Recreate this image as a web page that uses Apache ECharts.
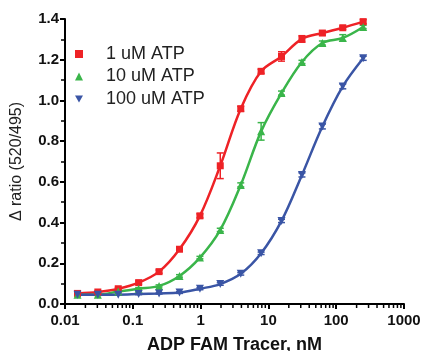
<!DOCTYPE html>
<html><head><meta charset="utf-8">
<script src="https://cdn.jsdelivr.net/npm/echarts@6/dist/echarts.min.js"></script>
<style>html,body{margin:0;padding:0;background:#fff}#c{width:422px;height:351px}</style>
</head><body><div id="c"></div>
<script>
const conc = [0.0153, 0.0305, 0.061, 0.122, 0.244, 0.488, 0.977, 1.95, 3.91, 7.81, 15.6, 31.25, 62.5, 125, 250];
const atp1 = [0.052,0.059,0.075,0.105,0.159,0.269,0.433,0.679,0.959,1.143,1.216,1.302,1.331,1.357,1.387];
const atp10 = [0.046,0.046,0.061,0.075,0.089,0.138,0.228,0.364,0.585,0.848,1.036,1.189,1.282,1.307,1.361];
const atp100 = [0.046,0.046,0.046,0.049,0.052,0.056,0.075,0.098,0.148,0.249,0.408,0.634,0.872,1.069,1.207];
const err1 = [0.005,0.005,0.006,0.008,0.008,0.008,0.01,0.063,0.012,0.01,0.023,0.016,0.01,0.008,0.01];
const err10 = [0.004,0.004,0.004,0.005,0.005,0.006,0.006,0.008,0.01,0.043,0.01,0.008,0.01,0.016,0.008];
const err100 = [0.003,0.003,0.003,0.003,0.003,0.004,0.005,0.006,0.006,0.006,0.008,0.01,0.012,0.012,0.01];
const names = ['1 uM ATP','10 uM ATP','100 uM ATP'];
const xTickLabels = ['0.01','0.1','1','10','100','1000'];
const decades = [0.01, 0.1, 1, 10, 100];
const minorSteps = [2,3,4,5,6,7,8,9];
const colors = ['#ee2226','#3ab54a','#3a55a5'];
const symbols = ['rect','triangle','path://M0,0L10,0L5,9z'];

const minorTickVals = [];
decades.forEach(d => minorSteps.forEach(m => minorTickVals.push([d*m, 0])));

const chart = echarts.init(document.getElementById('c'));
function lineSeries(i, vals){
  return {name:names[i], type:'line', smooth:0.35, data:conc.map((x,k)=>[x,vals[k]]),
    symbol:symbols[i], symbolSize:i===0?7:8, lineStyle:{width:2.5,color:colors[i]},
    itemStyle:{color:colors[i]}, z:3};
}
function errSeries(i, vals, errs){
  return {type:'custom', data:conc.map((x,k)=>[x,vals[k],errs[k]]), z:2, silent:true,
    renderItem:function(p, api){
      const x=api.value(0), y=api.value(1), e=api.value(2);
      const a=api.coord([x,y+e]), b=api.coord([x,y-e]);
      const s={stroke:colors[i], lineWidth:1.5};
      return {type:'group', children:[
        {type:'line', shape:{x1:a[0],y1:a[1],x2:b[0],y2:b[1]}, style:s},
        {type:'line', shape:{x1:a[0]-3.5,y1:a[1],x2:a[0]+3.5,y2:a[1]}, style:s},
        {type:'line', shape:{x1:b[0]-3.5,y1:b[1],x2:b[0]+3.5,y2:b[1]}, style:s}
      ]};
    }};
}
const minorTickSeries = {type:'custom', data:minorTickVals, clip:false, silent:true, z:5,
  renderItem:function(p, api){
    const c = api.coord([api.value(0), 0]);
    return {type:'line', shape:{x1:c[0], y1:c[1], x2:c[0], y2:c[1]+4}, style:{stroke:'#000', lineWidth:1.5}};
  }};
chart.setOption({
  animation:false,
  grid:{left:65, right:18, top:19, bottom:47, outerBoundsMode:'none', containLabel:false},
  legend:{orient:'vertical', left:75, top:44, padding:0, itemWidth:8, itemHeight:8, itemGap:2.5,
    data:names.map((n,i)=>({name:n, icon:symbols[i], itemStyle:{color:colors[i]}})),
    textStyle:{fontFamily:'Liberation Sans', fontSize:18, color:'#222', padding:[0,0,0,18], lineHeight:20}},
  xAxis:{type:'log', logBase:10, min:0.01, max:1000,
    name:'ADP FAM Tracer, nM', nameLocation:'middle', nameGap:32,
    nameTextStyle:{fontFamily:'Liberation Sans', fontWeight:'bold', fontSize:18, color:'#111'},
    axisLine:{lineStyle:{color:'#000', width:2}},
    axisTick:{length:5, lineStyle:{width:2, color:'#000'}},
    splitLine:{show:false},
    axisLabel:{fontFamily:'Liberation Sans', fontWeight:'bold', fontSize:15, color:'#111', margin:9,
      formatter:v=>xTickLabels[Math.round(Math.log10(v))+2]}},
  yAxis:{type:'value', min:0, max:1.4, interval:0.2,
    name:'Δ ratio (520/495)', nameLocation:'middle', nameGap:40,
    nameTextStyle:{fontFamily:'Liberation Sans', fontSize:16, color:'#222'},
    axisLine:{show:true, lineStyle:{color:'#000', width:2}},
    axisTick:{show:true, length:5, lineStyle:{width:2, color:'#000'}},
    minorTick:{show:true, splitNumber:2, length:4, lineStyle:{width:1.5,color:'#000'}},
    splitLine:{show:false},
    axisLabel:{fontFamily:'Liberation Sans', fontWeight:'bold', fontSize:15, color:'#111', margin:6,
      formatter:v=>v.toFixed(1)}},
  series:[minorTickSeries, errSeries(0,atp1,err1), errSeries(1,atp10,err10), errSeries(2,atp100,err100),
    lineSeries(0,atp1), lineSeries(1,atp10), lineSeries(2,atp100)]
});
</script></body></html>
